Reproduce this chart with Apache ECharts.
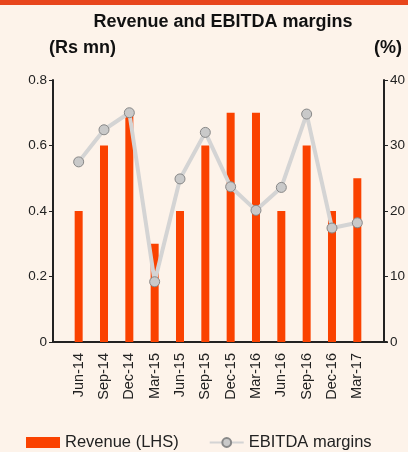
<!DOCTYPE html>
<html><head><meta charset="utf-8">
<script src="https://cdn.jsdelivr.net/npm/echarts@6/dist/echarts.min.js"></script>
<style>html,body{margin:0;padding:0;background:#fdf3ea;}#c{width:408px;height:452px;}</style>
</head><body><div id="c"></div>
<script>
var categories = ['Jun-14','Sep-14','Dec-14','Mar-15','Jun-15','Sep-15','Dec-15','Mar-16','Jun-16','Sep-16','Dec-16','Mar-17'];
var revenue = [0.4,0.6,0.7,0.3,0.4,0.6,0.7,0.7,0.4,0.6,0.4,0.5];
var ebitdaMargin = [27.5,32.4,35.0,9.2,24.9,32.0,23.7,20.1,23.6,34.8,17.4,18.2];
var leftTicks = [0,0.2,0.4,0.6,0.8];
var rightTicks = [0,10,20,30,40];

var FONT = 'Liberation Sans, Arial, sans-serif';
var chart = echarts.init(document.getElementById('c'), null, {renderer:'canvas'});
chart.setOption({
  backgroundColor: '#fdf3ea',
  animation: false,
  textStyle: {fontFamily: FONT},
  title: [
    {text: 'Revenue and EBITDA margins', left: 218, top: 8, textAlign: 'center',
     textStyle: {fontSize: 18, fontWeight: 'bold', color: '#111', fontFamily: FONT}},
    {text: '(Rs mn)', left: 44, top: 34, textStyle: {fontSize: 18, fontWeight: 'bold', color: '#111', fontFamily: FONT}},
    {text: '(%)', left: 369, top: 34, textStyle: {fontSize: 18, fontWeight: 'bold', color: '#111', fontFamily: FONT}}
  ],
  graphic: [{type: 'rect', left: 0, top: 0, shape: {width: 408, height: 5}, style: {fill: '#e8461c'}}],
  legend: {
    top: 429, left: 21, itemGap: 30, itemWidth: 34, itemHeight: 11,
    textStyle: {fontSize: 16.5, color: '#222', fontFamily: FONT},
    data: [
      {name: 'Revenue (LHS)', icon: 'rect'},
      {name: 'EBITDA margins'}
    ]
  },
  grid: [
    {left: 66, right: 35, top: 80, bottom: 110},
    {left: 53, right: 21, top: 80, bottom: 110}
  ],
  xAxis: [
    {type: 'category', data: categories, gridIndex: 0,
     axisLine: {show: false}, axisTick: {show: false},
     axisLabel: {rotate: 90, fontSize: 14.5, color: '#222', margin: 11, fontFamily: FONT}},
    {type: 'value', gridIndex: 1, min: 0, max: 1,
     axisLine: {show: true, onZero: false, lineStyle: {color: '#222', width: 2}},
     axisTick: {show: false}, axisLabel: {show: false}, splitLine: {show: false}}
  ],
  yAxis: [
    {type: 'value', gridIndex: 0, min: leftTicks[0], max: leftTicks[leftTicks.length-1], interval: 0.2, offset: 13,
     axisLine: {show: true, lineStyle: {color: '#222', width: 2}},
     axisTick: {show: true, length: 4, lineStyle: {color: '#222'}},
     axisLabel: {fontSize: 13.5, color: '#222', margin: 6, fontFamily: FONT,
                 formatter: function(v){ return v === 0 ? '0' : v.toFixed(1); }},
     splitLine: {show: false}},
    {type: 'value', gridIndex: 0, position: 'right', min: rightTicks[0], max: rightTicks[rightTicks.length-1], interval: 10, offset: 14,
     axisLine: {show: true, lineStyle: {color: '#222', width: 2}},
     axisTick: {show: true, length: 4, lineStyle: {color: '#222'}},
     axisLabel: {fontSize: 13.5, color: '#222', margin: 6, fontFamily: FONT},
     splitLine: {show: false}},
    {type: 'value', gridIndex: 1, show: false}
  ],
  series: [
    {name: 'Revenue (LHS)', type: 'bar', data: revenue, xAxisIndex: 0, yAxisIndex: 0,
     barWidth: 8, itemStyle: {color: '#fa4200'}},
    {name: 'EBITDA margins', type: 'line', data: ebitdaMargin, xAxisIndex: 0, yAxisIndex: 1,
     symbol: 'circle', symbolSize: 10,
     lineStyle: {color: '#d4d4d4', width: 4},
     itemStyle: {color: '#c9c9c9', borderColor: '#888', borderWidth: 1}}
  ]
});
</script></body></html>
